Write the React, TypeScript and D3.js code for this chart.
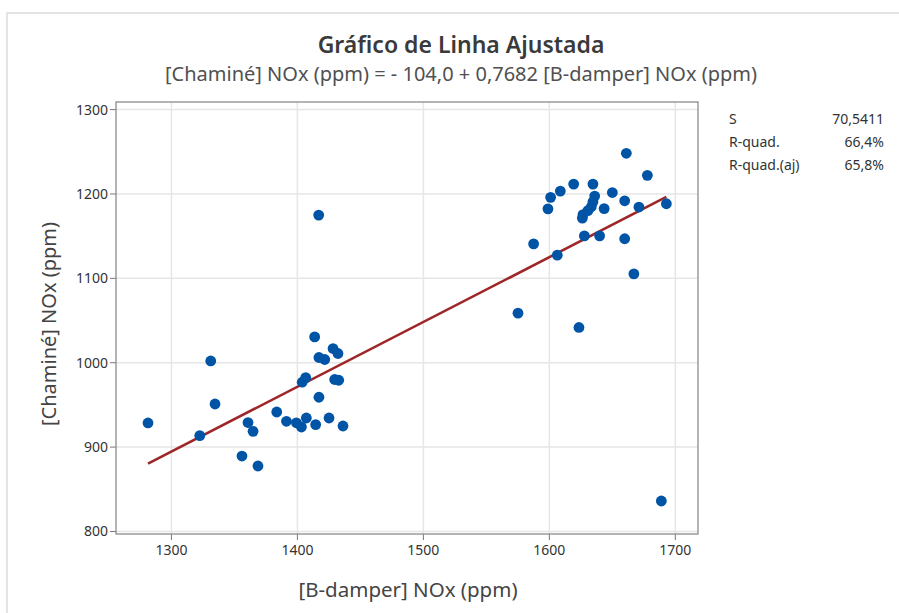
import * as d3 from 'd3';

// [B-damper] NOx (ppm) readings
const bDamper = [
  1281.4, 1322.5, 1331.2, 1334.6, 1356.0, 1360.8, 1364.8, 1368.7, 1383.6, 1391.3,
  1399.2, 1403.2, 1407.1, 1403.8, 1406.6, 1413.7, 1417.1, 1421.7, 1428.3, 1432.2,
  1429.6, 1432.8, 1417.1, 1414.5, 1425.1, 1436.2, 1416.9,
  1661.1, 1677.8, 1619.3, 1634.6, 1608.7, 1601.0, 1598.9, 1650.0, 1659.8, 1636.0,
  1634.6, 1633.3, 1630.6, 1626.7, 1626.2, 1643.5, 1671.1, 1692.9, 1627.8, 1639.9,
  1659.8, 1587.5, 1606.3, 1667.1, 1575.1, 1623.5, 1688.9
];
// [Chaminé] NOx (ppm) readings
const chamine = [
  928.6, 913.6, 1002.1, 951.1, 889.4, 929.1, 918.7, 877.6, 941.6, 930.6,
  928.8, 923.8, 934.5, 976.9, 982.4, 1030.6, 1006.2, 1003.8, 1016.8, 1010.9,
  980.1, 979.2, 959.1, 926.7, 934.5, 925.0, 1175.0,
  1248.2, 1222.1, 1211.7, 1211.7, 1203.4, 1196.0, 1182.4, 1201.7, 1191.9, 1197.5,
  1190.7, 1184.8, 1180.3, 1175.6, 1171.4, 1182.7, 1184.5, 1188.4, 1150.4, 1150.4,
  1146.9, 1140.9, 1127.5, 1105.3, 1058.7, 1041.8, 836.1
];

const xTicks = [1300, 1400, 1500, 1600, 1700];
const yTicks = [800, 900, 1000, 1100, 1200, 1300];

const intercept = -104.0;
const slope = 0.7682;

const statLabels = ['S', 'R-quad.', 'R-quad.(aj)'];
const statValues = ['70,5411', '66,4%', '65,8%'];

const FONT = '"Noto Sans", "Open Sans", sans-serif';

export default function App() {
  const width = 899;
  const height = 613;
  const left = 116;
  const right = 698;
  const top = 102;
  const bottom = 534;

  const x = d3.scaleLinear().domain([1256, 1718]).range([left, right]);
  const y = d3.scaleLinear().domain([797, 1309]).range([bottom, top]);

  const fmt = (v: number) => String(v);
  const [xMin, xMax] = d3.extent(bDamper) as [number, number];
  const fitLine = d3
    .line<number>()
    .x((d) => x(d))
    .y((d) => y(intercept + slope * d));

  return (
    <svg
      width={width}
      height={height}
      style={{ position: 'absolute', left: 0, top: 0, background: '#fff' }}
      fontFamily={FONT}
    >
      {/* outer frame */}
      <path d={`M7,${height} V13 H${width}`} fill="none" stroke="#dcdcdc" strokeWidth={1.5} />

      <text x={461} y={53} textAnchor="middle" fontSize={23} fontWeight={600} fill="#3a3a3a">
        Gráfico de Linha Ajustada
      </text>
      <text x={461} y={81} textAnchor="middle" fontSize={20} fill="#505050">
        [Chaminé] NOx (ppm) = - 104,0 + 0,7682 [B-damper] NOx (ppm)
      </text>

      {/* grid */}
      {xTicks.map((t) => (
        <line key={'gx' + t} x1={x(t)} x2={x(t)} y1={top} y2={bottom} stroke="#e6e6e6" strokeWidth={1.5} />
      ))}
      {yTicks.map((t) => (
        <line key={'gy' + t} x1={left} x2={right} y1={y(t)} y2={y(t)} stroke="#e6e6e6" strokeWidth={1.5} />
      ))}

      {/* ticks + labels */}
      {xTicks.map((t) => (
        <g key={'tx' + t}>
          <line x1={x(t)} x2={x(t)} y1={bottom} y2={bottom + 6} stroke="#777" />
          <text x={x(t)} y={bottom + 21} textAnchor="middle" fontSize={14} fill="#333">
            {fmt(t)}
          </text>
        </g>
      ))}
      {yTicks.map((t) => (
        <g key={'ty' + t}>
          <line x1={left - 6} x2={left} y1={y(t)} y2={y(t)} stroke="#777" />
          <text x={left - 8} y={y(t) + 5} textAnchor="end" fontSize={14} fill="#333">
            {fmt(t)}
          </text>
        </g>
      ))}

      {/* fitted line */}
      <path d={fitLine([xMin, xMax]) || ''} fill="none" stroke="#9e2628" strokeWidth={2.6} />

      {/* points */}
      {bDamper.map((v, i) => (
        <circle key={i} cx={x(v)} cy={y(chamine[i])} r={5.4} fill="#0054a6" />
      ))}

      {/* plot frame */}
      <rect x={left} y={top} width={right - left} height={bottom - top} fill="none" stroke="#8c8c8c" strokeWidth={1.3} />

      {/* axis titles */}
      <text x={(left + right) / 2 + 1} y={597} textAnchor="middle" fontSize={20.5} fill="#444">
        [B-damper] NOx (ppm)
      </text>
      <text
        transform={`translate(56, ${(top + bottom) / 2 + 6}) rotate(-90)`}
        textAnchor="middle"
        fontSize={20}
        fill="#444"
      >
        [Chaminé] NOx (ppm)
      </text>

      {/* summary stats */}
      {statLabels.map((s, i) => (
        <g key={s} fontSize={14} fill="#333">
          <text x={729} y={124 + i * 23}>{s}</text>
          <text x={884} y={124 + i * 23} textAnchor="end">{statValues[i]}</text>
        </g>
      ))}
    </svg>
  );
}
